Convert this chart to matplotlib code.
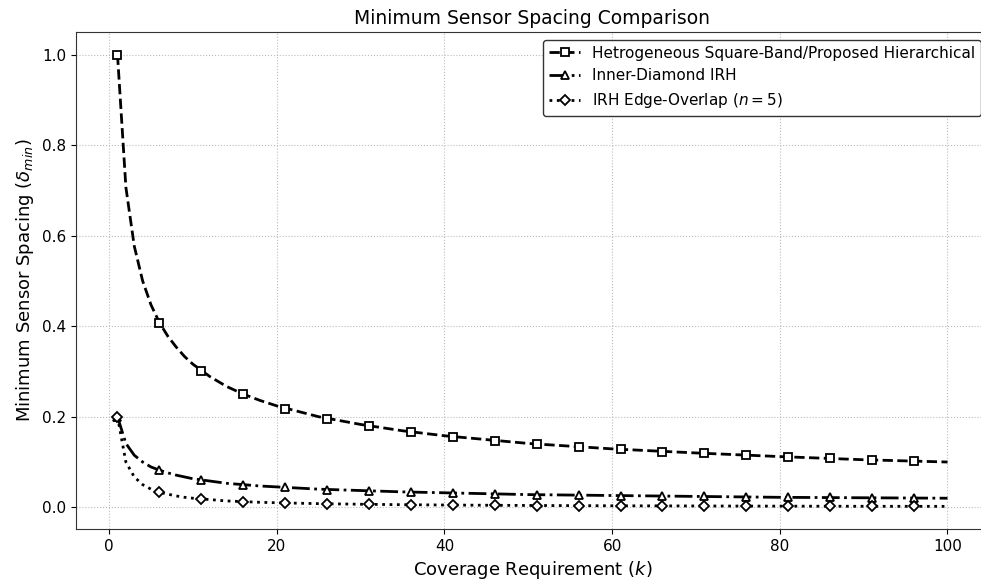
import matplotlib
matplotlib.use("Agg")
import matplotlib.pyplot as plt
from matplotlib.lines import Line2D

# Line samples (coverage requirement k)
k_line = [1, 2, 3, 4, 5, 6, 7, 8, 9, 10, 12, 14, 16, 18, 20, 25, 30, 35, 40,
          50, 60, 70, 80, 90, 100]
square_band_line = [1.000, 0.707, 0.577, 0.500, 0.447, 0.408, 0.378, 0.354, 0.333,
                    0.316, 0.289, 0.267, 0.250, 0.236, 0.224, 0.200, 0.183, 0.169,
                    0.158, 0.141, 0.129, 0.120, 0.112, 0.105, 0.100]
inner_diamond_line = [0.200, 0.141, 0.115, 0.100, 0.089, 0.082, 0.076, 0.071, 0.067,
                      0.063, 0.058, 0.053, 0.050, 0.047, 0.045, 0.040, 0.037, 0.034,
                      0.032, 0.028, 0.026, 0.024, 0.022, 0.021, 0.020]
edge_overlap_line = [0.200, 0.100, 0.067, 0.050, 0.040, 0.033, 0.029, 0.025, 0.022,
                     0.020, 0.017, 0.014, 0.0125, 0.011, 0.010, 0.008, 0.0067, 0.0057,
                     0.005, 0.004, 0.0033, 0.0029, 0.0025, 0.0022, 0.002]

# Marker samples
k_mark = [1, 6, 11, 16, 21, 26, 31, 36, 41, 46, 51, 56, 61, 66, 71, 76, 81, 86, 91, 96]
square_band_mark = [1.000, 0.408, 0.302, 0.250, 0.218, 0.196, 0.180, 0.167, 0.156, 0.147,
                    0.140, 0.134, 0.128, 0.123, 0.119, 0.115, 0.111, 0.108, 0.105, 0.102]
inner_diamond_mark = [0.200, 0.082, 0.060, 0.050, 0.044, 0.039, 0.036, 0.033, 0.031, 0.029,
                      0.028, 0.027, 0.026, 0.025, 0.024, 0.023, 0.022, 0.022, 0.021, 0.020]
edge_overlap_mark = [0.200, 0.033, 0.018, 0.0125, 0.0095, 0.0077, 0.0065, 0.0056, 0.0049,
                     0.0043, 0.0039, 0.0036, 0.0033, 0.0030, 0.0028, 0.0026, 0.0025,
                     0.0023, 0.0022, 0.0021]

labels = ["Hetrogeneous Square-Band/Proposed Hierarchical",
          "Inner-Diamond IRH",
          r"IRH Edge-Overlap ($n=5$)"]

fig = plt.figure(figsize=(9.81, 5.83), dpi=100)
ax = fig.add_axes([76 / 981, 54 / 583, (989 - 76) / 981, (529 - 32) / 583])

series = [
    (square_band_line, square_band_mark, "--", "s", 5.5),
    (inner_diamond_line, inner_diamond_mark, "-.", "^", 5.5),
    (edge_overlap_line, edge_overlap_mark, ":", "D", 5.5),
]
handles = []
for (yl, ym, ls, mk, ms), lab in zip(series, labels):
    ax.plot(k_line, yl, color="black", linestyle=ls, linewidth=2)
    ax.plot(k_mark, ym, linestyle="none", marker=mk, markersize=ms,
            markerfacecolor="white", markeredgecolor="black", markeredgewidth=1.3)
    handles.append(Line2D([], [], color="black", linestyle=ls, linewidth=2, marker=mk,
                          markersize=ms, markerfacecolor="white",
                          markeredgecolor="black", markeredgewidth=1.3, label=lab))

ax.set_xlim(-3.95, 104.95)
ax.set_ylim(-0.048, 1.05)
ax.set_xticks([0, 20, 40, 60, 80, 100])
ax.set_yticks([0.0, 0.2, 0.4, 0.6, 0.8, 1.0])
ax.tick_params(labelsize=11)
ax.grid(True, linestyle=":", color="#bbbbbb", linewidth=0.8)
ax.set_title("Minimum Sensor Spacing Comparison", fontsize=13.5, pad=6)
ax.set_xlabel(r"Coverage Requirement ($k$)", fontsize=13)
ax.set_ylabel(r"Minimum Sensor Spacing ($\delta_{min}$)", fontsize=13)
for s in ax.spines.values():
    s.set_color("#333333")
leg = ax.legend(handles=handles, loc="upper right", fontsize=11, framealpha=1,
                edgecolor="#333333", borderaxespad=0.5)

fig.savefig("out.png", dpi=100)
